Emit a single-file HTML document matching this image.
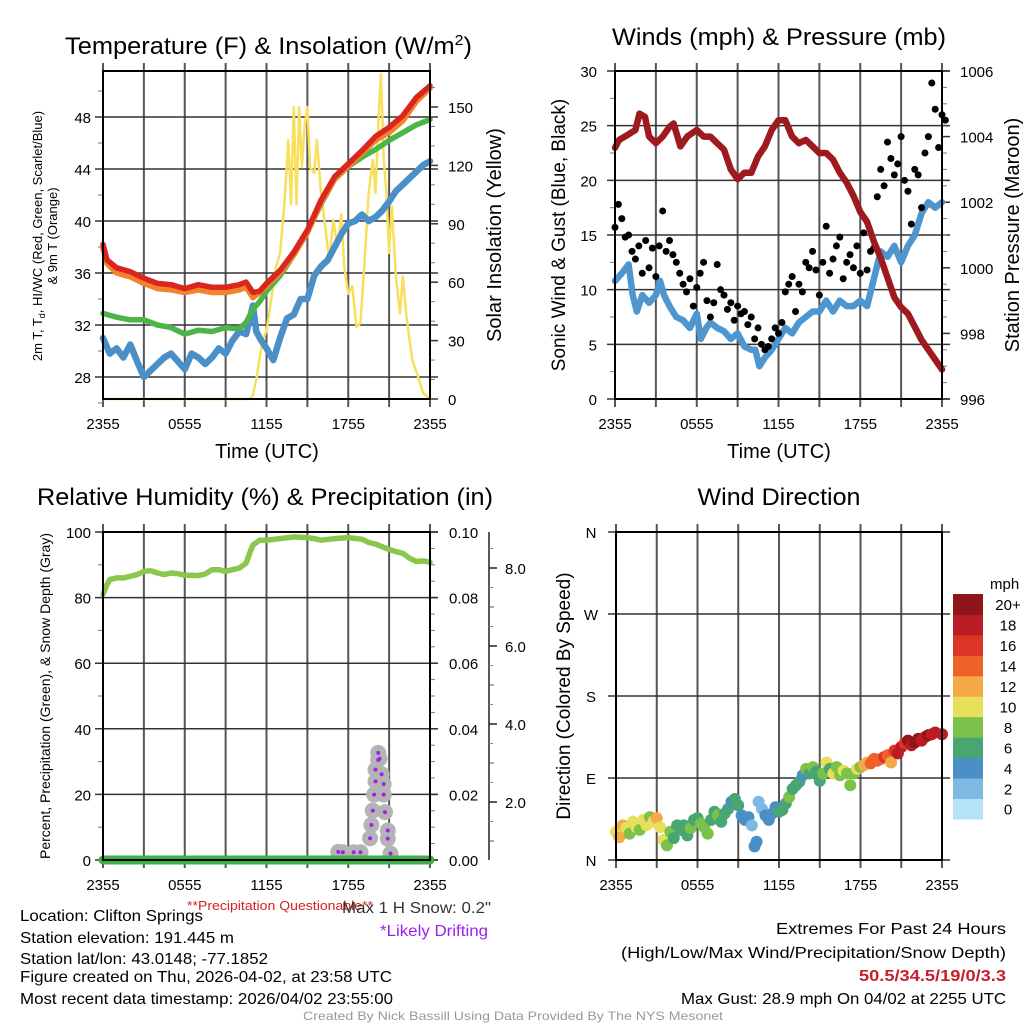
<!DOCTYPE html>
<html><head><meta charset="utf-8"><style>
html,body{margin:0;padding:0;background:#fff;}
svg{display:block;font-family:"Liberation Sans",sans-serif;}
</style></head><body>
<svg id="chart" width="1024" height="1024" viewBox="0 0 1024 1024" xmlns="http://www.w3.org/2000/svg">
<rect width="1024" height="1024" fill="#fff"/>
<g id="layer"></g>
<!-- titles -->
<text x="65" y="54" font-size="24" textLength="407" lengthAdjust="spacingAndGlyphs">Temperature (F) &amp; Insolation (W/m<tspan dy="-9" font-size="15">2</tspan><tspan dy="9">)</tspan></text>
<text x="779" y="45" font-size="24" text-anchor="middle" textLength="334" lengthAdjust="spacingAndGlyphs">Winds (mph) &amp; Pressure (mb)</text>
<text x="265" y="505" font-size="24" text-anchor="middle" textLength="456" lengthAdjust="spacingAndGlyphs">Relative Humidity (%) &amp; Precipitation (in)</text>
<text x="779" y="505" font-size="24" text-anchor="middle" textLength="163" lengthAdjust="spacingAndGlyphs">Wind Direction</text>
<!-- axis titles -->
<text x="267" y="458" font-size="20" text-anchor="middle">Time (UTC)</text>
<text x="779" y="458" font-size="20" text-anchor="middle">Time (UTC)</text>
<text transform="translate(42,236) rotate(-90)" font-size="13" text-anchor="middle">2m T, T<tspan font-size="9" dy="3">d</tspan><tspan dy="-3">, HI/WC (Red, Green, Scarlet/Blue)</tspan></text>
<text transform="translate(57,236) rotate(-90)" font-size="13" text-anchor="middle">&amp; 9m T (Orange)</text>
<text transform="translate(501,235) rotate(-90)" font-size="20" text-anchor="middle">Solar Insolation (Yellow)</text>
<text transform="translate(565,235) rotate(-90)" font-size="19" text-anchor="middle">Sonic Wind &amp; Gust (Blue, Black)</text>
<text transform="translate(1019,235) rotate(-90)" font-size="20" text-anchor="middle">Station Pressure (Maroon)</text>
<text transform="translate(50,696) rotate(-90)" font-size="14" text-anchor="middle">Percent, Precipitation (Green), &amp; Snow Depth (Gray)</text>
<text transform="translate(570,696) rotate(-90)" font-size="19" text-anchor="middle">Direction (Colored By Speed)</text>
<!-- footer -->
<g font-size="16">
<text x="20" y="921" textLength="183" lengthAdjust="spacingAndGlyphs">Location: Clifton Springs</text>
<text x="20" y="943" textLength="214" lengthAdjust="spacingAndGlyphs">Station elevation: 191.445 m</text>
<text x="20" y="964" textLength="248" lengthAdjust="spacingAndGlyphs">Station lat/lon: 43.0148; -77.1852</text>
<text x="20" y="982" textLength="372" lengthAdjust="spacingAndGlyphs">Figure created on Thu, 2026-04-02, at 23:58 UTC</text>
<text x="20" y="1004" textLength="373" lengthAdjust="spacingAndGlyphs">Most recent data timestamp: 2026/04/02 23:55:00</text>
</g>
<text x="187" y="910" font-size="13" fill="#d62020" textLength="186" lengthAdjust="spacingAndGlyphs">**Precipitation Questionable**</text>
<text x="342" y="913" font-size="16" fill="#333" textLength="149" lengthAdjust="spacingAndGlyphs">Max 1 H Snow: 0.2"</text>
<text x="380" y="936" font-size="16" fill="#a020f0" textLength="108" lengthAdjust="spacingAndGlyphs">*Likely Drifting</text>
<text x="776" y="934" font-size="16" textLength="230" lengthAdjust="spacingAndGlyphs">Extremes For Past 24 Hours</text>
<text x="621" y="958" font-size="16" textLength="385" lengthAdjust="spacingAndGlyphs">(High/Low/Max Wind/Precipitation/Snow Depth)</text>
<text x="859" y="981" font-size="16" font-weight="bold" fill="#c8202a" textLength="147" lengthAdjust="spacingAndGlyphs">50.5/34.5/19/0/3.3</text>
<text x="681" y="1004" font-size="16" textLength="325" lengthAdjust="spacingAndGlyphs">Max Gust: 28.9 mph On 04/02 at 2255 UTC</text>
<text x="303" y="1020" font-size="12" fill="#999" textLength="420" lengthAdjust="spacingAndGlyphs">Created By Nick Bassill Using Data Provided By The NYS Mesonet</text>
</svg>
<script>
// ---------- data ----------
const timeTickLabels = ["2355","0555","1155","1755","2355"];
const tempHours = [0,0.3,1,2,3,4,5,6,7,8,9,10,10.5,11,11.5,12,13,14,15,16,17,18,19,20,21,22,23,24];
const tempRed   = [38.2,37.0,36.4,36.1,35.6,35.2,35.1,34.8,35.1,34.9,34.9,35.1,35.3,34.5,34.6,35.2,36.2,37.6,39.3,41.6,43.4,44.4,45.4,46.5,47.2,48.1,49.5,50.4];
const temp9mOrange = [37.9,36.7,36.0,35.7,35.2,34.8,34.7,34.5,34.7,34.5,34.5,34.7,34.9,34.1,34.5,35.0,36.0,37.4,39.1,41.4,43.2,44.2,45.2,46.2,46.8,47.7,49.2,50.2];
const dewGreen  = [32.9,32.8,32.6,32.4,32.4,32.0,31.8,31.3,31.6,31.5,31.8,31.7,32.2,33.2,33.8,34.6,35.8,37.4,39.2,41.3,43.2,44.2,44.9,45.5,46.2,46.8,47.4,47.8];
const wcHours = [0,0.5,1,1.5,2,2.5,3,3.5,4,4.5,5,5.5,6,6.5,7,7.5,8,8.5,9,9.5,10,10.5,11,11.25,11.5,12,12.5,13,13.5,14,14.5,15,15.5,16,16.5,17,17.5,18,18.5,19,19.5,20,20.5,21,21.5,22,22.5,23,23.5,24];
const wcBlue = [31.0,29.8,30.2,29.5,30.5,29.2,28.0,28.5,29.0,29.5,29.8,29.2,28.6,29.8,29.5,29.0,29.5,30.2,29.8,30.8,31.5,31.3,33.5,31.5,31.0,30.2,29.3,31.0,32.5,32.8,34.0,34.0,35.8,36.5,37.0,38.0,39.0,39.8,40.0,40.5,40.0,40.3,40.8,41.5,42.3,42.8,43.3,43.8,44.3,44.6];
const solarHours = [0,10.8,11,11.3,11.7,12,12.4,12.7,13,13.3,13.6,13.8,14,14.2,14.4,14.6,14.8,15,15.2,15.5,15.7,16,16.3,16.6,16.9,17.2,17.5,17.7,18,18.3,18.6,18.9,19.2,19.5,19.8,20,20.2,20.4,20.6,20.8,21,21.2,21.5,21.8,22,22.3,22.7,23.1,23.5,24];
const solarYellow = [0,0,2,12,30,35,54,68,75,99,133,100,150,100,150,119,140,150,119,116,133,106,89,71,92,78,95,68,54,58,37,39,71,106,123,106,140,167,123,106,75,99,63,44,63,41,20,12,3,0];

const presHours = [0,0.3,1,1.5,1.8,2.2,2.5,3,3.5,4,4.3,4.8,5.3,6,6.5,7,7.5,8,8.5,9,9.5,10,10.5,11,11.5,12,12.5,13,13.5,14,14.5,15,15.5,16,16.5,17,17.5,18,18.5,19,19.5,20,20.5,21,21.5,22,22.5,23,23.5,24];
const pressure = [1003.66,1003.9,1004.07,1004.2,1004.7,1004.6,1004.0,1003.8,1004.0,1004.3,1004.4,1003.7,1004.0,1004.2,1004.0,1004.0,1003.8,1003.6,1003.0,1002.7,1002.9,1002.9,1003.4,1003.7,1004.2,1004.5,1004.5,1004.0,1003.8,1003.9,1003.7,1003.5,1003.5,1003.3,1002.9,1002.6,1002.2,1001.7,1001.4,1000.8,1000.3,999.7,999.1,998.8,998.6,998.2,997.8,997.5,997.2,996.9];
const windHours = [0,0.5,1,1.3,1.6,2,2.5,3,3.3,3.6,4,4.5,5,5.5,6,6.3,6.7,7,7.5,8,8.5,9,9.5,10,10.3,10.6,11,11.5,12,12.5,13,13.5,14,14.5,15,15.5,16,16.5,17,17.5,18,18.5,19,19.5,20,20.5,21,21.5,22,22.5,23,23.5,24];
const windSpeed = [10.8,11.5,12.3,9.5,8.0,9.5,8.8,9.5,10.8,9.5,8.5,7.5,7.2,6.5,7.8,5.5,6.5,7.0,6.5,6.2,5.5,6.0,4.8,4.5,4.5,3.0,3.8,4.5,5.5,6.5,6.0,7.0,7.5,8.0,8.0,9.0,8.0,9.0,8.5,8.5,9.0,8.5,11.0,13.5,13.0,14.0,12.5,14.0,15.0,17.0,18.0,17.5,18.0];
const gustValues = [15.7,17.8,16.5,14.8,15.0,13.5,12.8,14.0,11.5,14.5,12.0,13.8,11.2,14.0,17.2,13.5,14.5,13.2,12.5,11.5,10.5,9.8,11.0,8.5,10.2,11.5,12.5,9.0,7.5,8.8,12.3,10.0,9.5,8.2,8.8,7.2,8.5,7.8,8.0,6.8,7.5,5.5,6.5,5.0,4.5,4.8,5.5,6.5,6.0,7.0,9.8,10.5,11.2,8.0,10.5,9.8,12.5,12.0,13.5,11.8,9.5,12.5,15.8,11.5,12.8,14.0,14.8,11.0,12.5,13.2,12.0,14.0,11.5,15.2,11.8,13.5,13.8,18.5,21.0,19.5,23.5,22.0,20.5,21.5,24.0,20.0,19.0,16.0,21.0,20.5,17.5,22.5,24.0,28.9,26.5,23.0,26.0,25.5];

const rhHours = [0,0.3,0.5,1,1.5,2,2.5,3,3.5,4,4.5,5,5.5,6,6.5,7,7.5,8,8.5,9,9.5,10,10.5,10.8,11,11.5,12,13,14,15,15.5,16,17,18,19,19.5,20,21,21.5,22,22.5,23,23.5,24];
const rhValues = [81,84,85.5,86,86,86.5,87,88,88.2,87.5,87,87.5,87.3,86.8,86.8,86.7,87.2,88.5,88.5,88,88.5,89,90.5,94,96,97.5,97.5,98,98.5,98.3,98,97.5,98,98.3,97.8,96.8,96.3,94.7,94,93.5,92,91,91.2,90.8];
const precipHours = [0,24];
const precipValues = [0,0];
const snowHours = [17.27,17.6,18.4,18.9,19.6,19.7,19.8,19.9,20.0,20.0,20.2,20.2,20.3,20.45,20.6,20.6,20.7,20.9,20.9,21.1];
const snowDepth = [0.72,0.71,0.71,0.71,1.07,1.41,1.78,2.19,2.53,2.83,3.08,3.26,3.11,2.71,2.46,2.19,1.74,1.27,1.06,0.68];

const dirHours = [0,0.25,0.5,0.75,1,1.25,1.5,1.75,2,2.25,2.5,2.75,3,3.25,3.5,3.75,4,4.25,4.5,4.75,5,5.25,5.5,5.75,6,6.25,6.5,6.75,7,7.25,7.5,7.75,8,8.25,8.5,8.75,9,9.25,9.5,9.75,10,10.2,10.35,10.5,10.75,11,11.25,11.5,11.75,12,12.25,12.5,12.75,13,13.25,13.5,13.75,14,14.25,14.5,14.75,15,15.25,15.5,15.75,16,16.25,16.5,16.75,17,17.25,17.5,17.75,18,18.25,18.5,18.75,19,19.25,19.5,19.75,20,20.25,20.5,20.75,21,21.25,21.5,21.75,22,22.25,22.5,22.75,23,23.25,23.5,24];
const dirDegrees = [31,25,38,35,29,42,36,33,44,38,47,42,46,36,22,16,31,24,38,33,38,27,35,44,46,40,36,29,44,53,49,42,51,56,64,67,60,49,44,47,38,15,20,64,56,49,44,51,58,53,55,62,69,78,82,86,93,100,95,102,97,87,95,107,100,95,102,93,98,95,82,95,100,102,104,107,106,111,109,111,113,115,107,120,117,124,128,131,126,129,133,131,135,137,138,140,138];
const dirSpeed = [10,12,12,10,8,10,10,8,10,10,8,10,12,10,10,8,8,6,6,6,6,6,8,6,6,8,8,8,6,6,8,6,6,6,4,6,6,4,4,4,2,4,4,2,2,4,4,4,4,6,6,6,8,6,6,6,4,8,6,8,6,6,8,10,6,10,8,8,10,8,8,8,10,8,12,12,14,14,14,14,16,14,12,16,18,18,16,20,18,20,20,18,18,20,18,18,18];
const speedBinLabels = ["0","2","4","6","8","10","12","14","16","18","20+"];
const speedBinColors = ["#b4e2f7","#7eb9e3","#4a8fc6","#48a672","#7cc14a","#e6e05a","#f6a947","#ee6128","#dc3427","#bb1c23","#8e1519"];

// ---------- drawing ----------
const NS = "http://www.w3.org/2000/svg";
const layer = document.getElementById("layer");
function mk(tag, attrs, parent){
  const e = document.createElementNS(NS, tag);
  for (const k in attrs) e.setAttribute(k, attrs[k]);
  (parent||layer).appendChild(e);
  return e;
}
function lin(d0,d1,r0,r1){return v=>r0+(v-d0)*(r1-r0)/(d1-d0);}
function pathFrom(xs,ys,fx,fy){return xs.map((x,i)=>(i?"L":"M")+fx(x).toFixed(1)+","+fy(ys[i]).toFixed(1)).join("");}

function frame(x0,x1,y0,y1,name){
  const g = mk("g",{});
  
  
  const fx = lin(0,24,x0,x1);
  for(let h=0;h<=24;h+=3){
    const gl = mk("line",{x1:fx(h),x2:fx(h),y1:y0-8,y2:y1+8,stroke:"#555","stroke-width":2},g);
    
    
  }
  timeTickLabels.forEach((t,i)=>{
    const tx = mk("text",{x:fx(i*6),y:y1+30,"font-size":15,"text-anchor":"middle"},g);
    tx.textContent=t;
    
    
  });
  return {g,fx};
}
function hgrid(g,ys,x0,x1){
  ys.forEach(y=>{
    const l = mk("line",{x1:x0-8,x2:x1+8,y1:y,y2:y,stroke:"#333","stroke-width":1.5},g);
    
    
  });
}
function border(g,x0,x1,y0,y1){
  const r = mk("rect",{x:x0,y:y0,width:x1-x0,height:y1-y0,fill:"none",stroke:"#000","stroke-width":2},g);
  
  
}
function label(g,x,y,t,anchor,size,name){
  const e = mk("text",{x:x,y:y,"font-size":size||15,"text-anchor":anchor||"start"},g);
  e.textContent=t;
  
  
  return e;
}
function minorTicks(g,x,ys,len){
  ys.forEach(y=>mk("line",{x1:x,x2:x+len,y1:y,y2:y,stroke:"#777","stroke-width":1},g));
}
function series(g,xs,ys,fx,fy,color,w,name){
  const p = mk("path",{d:pathFrom(xs,ys,fx,fy),fill:"none",stroke:color,"stroke-width":w,"stroke-linejoin":"round","stroke-linecap":"round"},g);
  
  
  return p;
}

// Panel 1: temperature
(function(){
  const X0=103,X1=430,Y0=71,Y1=399;
  const {g,fx} = frame(X0,X1,Y0,Y1,"temperature-panel");
  const fy = lin(28,48,377,117);
  const fs = lin(0,150,399,107);
  const ticks=[28,32,36,40,44,48];
  hgrid(g,ticks.map(fy),X0,X1);
  ticks.forEach(v=>label(g,91,fy(v)+6,String(v),"end",15,"temp-tick-label"));
  for(let v=26;v<=50;v+=2) if(v%4) mk("line",{x1:X0-5,x2:X0,y1:fy(v),y2:fy(v),stroke:"#777"},g);
  [0,30,60,90,120,150].forEach(v=>{mk("line",{x1:X1,x2:X1+8,y1:fs(v),y2:fs(v),stroke:"#333","stroke-width":1.5},g);label(g,448,fs(v)+6,String(v),"start",15,"solar-tick-label");});
  const mins=[];for(let v=10;v<=160;v+=10) if(v%30) mins.push(fs(v));
  minorTicks(g,X1,mins,5);
  series(g,solarHours,solarYellow,fx,fs,"#f8e05c",2.5,"solar-insolation-line");
  series(g,wcHours,wcBlue,fx,fy,"#4a8fc8",6.5,"wind-chill-line");
  series(g,tempHours,dewGreen,fx,fy,"#4cb548",5.5,"dewpoint-line");
  series(g,tempHours,temp9mOrange,fx,fy,"#f5822e",5.5,"temperature-9m-line");
  series(g,tempHours,tempRed,fx,fy,"#d9261f",5.5,"temperature-2m-line");
  border(g,X0,X1,Y0,Y1);
})();

// Panel 2: winds & pressure
(function(){
  const X0=615,X1=942,Y0=71,Y1=399;
  const {g,fx} = frame(X0,X1,Y0,Y1,"winds-panel");
  const fy = lin(0,30,399,71);
  const fp = lin(996,1006,399,71);
  const ticks=[0,5,10,15,20,25,30];
  hgrid(g,ticks.map(fy),X0,X1);
  ticks.forEach(v=>label(g,597,fy(v)+6,String(v),"end",15,"wind-tick-label"));
  for(let v=2.5;v<30;v+=5) mk("line",{x1:X0-5,x2:X0,y1:fy(v),y2:fy(v),stroke:"#777"},g);
  [996,998,1000,1002,1004,1006].forEach(v=>{mk("line",{x1:X1,x2:X1+8,y1:fp(v),y2:fp(v),stroke:"#333","stroke-width":1.5},g);label(g,960,fp(v)+6,String(v),"start",15,"pressure-tick-label");});
  const mins=[];for(let v=996.5;v<1006;v+=0.5) if(Math.abs(v-Math.round(v/2)*2)>0.01) mins.push(fp(v));
  minorTicks(g,X1,mins,5);
  series(g,windHours,windSpeed,fx,fy,"#4e96d0",6.5,"sonic-wind-line");
  gustValues.forEach((v,i)=>{
    const c = mk("circle",{cx:fx(i*0.25),cy:fy(v),r:3.5,fill:"#000"},g);
    
    
  });
  series(g,presHours,pressure,fx,fp,"#9e1a1e",6.5,"pressure-line");
  border(g,X0,X1,Y0,Y1);
})();

// Panel 3: RH & precip
(function(){
  const X0=103,X1=430,Y0=532,Y1=860;
  const {g,fx} = frame(X0,X1,Y0,Y1,"humidity-panel");
  const fy = lin(0,100,860,532);
  const fpr = lin(0,0.1,860,532);
  const fsn = lin(2,8,802,568);
  const ticks=[0,20,40,60,80,100];
  hgrid(g,ticks.map(fy),X0,X1);
  ticks.forEach(v=>label(g,91,fy(v)+6,String(v),"end",15,"rh-tick-label"));
  for(let v=10;v<100;v+=20) mk("line",{x1:X0-5,x2:X0,y1:fy(v),y2:fy(v),stroke:"#777"},g);
  [0,0.02,0.04,0.06,0.08,0.10].forEach(v=>{mk("line",{x1:X1,x2:X1+8,y1:fpr(v),y2:fpr(v),stroke:"#333","stroke-width":1.5},g);label(g,449,fpr(v)+6,v.toFixed(2),"start",15,"precip-tick-label");});
  const mins=[];for(let v=0.005;v<0.1;v+=0.005) if(Math.round(v*1000)%20) mins.push(fpr(v));
  minorTicks(g,X1,mins,5);
  // snow depth axis
  const sa = mk("line",{x1:489,x2:489,y1:Y0,y2:Y1,stroke:"#222","stroke-width":1.5},g);
  
  
  [2,4,6,8].forEach(v=>{mk("line",{x1:489,x2:497,y1:fsn(v),y2:fsn(v),stroke:"#222","stroke-width":1.5},g);label(g,505,fsn(v)+6,v.toFixed(1),"start",15,"snow-tick-label");});
  [1,3,5,7].forEach(v=>mk("line",{x1:489,x2:494,y1:fsn(v),y2:fsn(v),stroke:"#555"},g));
  [1.5,2.5,3.5,4.5,5.5,6.5,7.5,8.5].forEach(v=>mk("line",{x1:489,x2:493,y1:fsn(v),y2:fsn(v),stroke:"#888"},g));
  series(g,rhHours,rhValues,fx,fy,"#8bc74c",5.5,"relative-humidity-line");
  snowHours.forEach((h,i)=>{
    const c = mk("circle",{cx:fx(h),cy:fsn(snowDepth[i]),r:8,fill:"#b4b4b4"},g);
    
    
  });
  snowHours.forEach((h,i)=>{
    const c = mk("circle",{cx:fx(h),cy:fsn(snowDepth[i]),r:2,fill:"#a020f0"},g);
    
    
  });
  series(g,precipHours,precipValues,fx,fpr,"#3fae43",9,"precipitation-line");
  border(g,X0,X1,Y0,Y1);
})();

// Panel 4: wind direction
(function(){
  const X0=616,X1=942,Y0=532,Y1=860;
  const {g,fx} = frame(X0,X1,Y0,Y1,"wind-direction-panel");
  const fy = lin(0,360,860,532);
  const dirs=[0,90,180,270,360], names=["N","E","S","W","N"];
  hgrid(g,dirs.map(fy),X0,X1);
  dirs.forEach((d,i)=>label(g,591,fy(d)+6,names[i],"middle",15,"direction-tick-label"));
  dirHours.forEach((h,i)=>{
    const idx = Math.min(10, Math.floor(dirSpeed[i]/2));
    const c = mk("circle",{cx:fx(h),cy:fy(dirDegrees[i]),r:6,fill:speedBinColors[idx]},g);
    
    
  });
  border(g,X0,X1,Y0,Y1);
  // colorbar
  const cb = mk("g",{});
  
  
  const top=594, h=20.45;
  label(cb,990,589,"mph","start",15,"colorbar-unit-label");
  speedBinLabels.forEach((t,i)=>{
    const yy = top + (10-i)*h;
    const r = mk("rect",{x:953,y:yy,width:30,height:h+0.5,fill:speedBinColors[i]},cb);
    
    
    label(cb,1008,yy+h/2+6,t,"middle",15,"colorbar-label");
  });
})();
</script>
</body></html>
